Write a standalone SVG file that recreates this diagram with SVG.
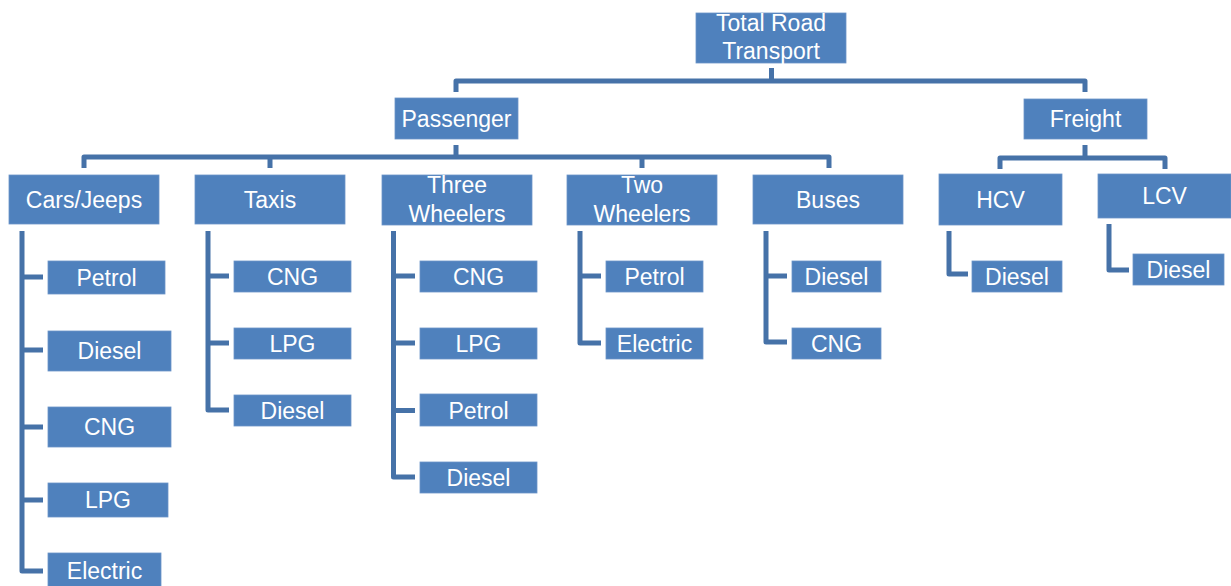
<svg xmlns="http://www.w3.org/2000/svg" width="1231" height="586" viewBox="0 0 1231 586">
<style>
.b{fill:#4f81bd;stroke:#6b95c9;stroke-width:0.8}
.t{font-family:"Liberation Sans",Arial,sans-serif;font-size:23px;fill:#ffffff;text-anchor:middle}
.c{fill:none;stroke:#4672a8;stroke-width:5;stroke-linejoin:round}
</style>
<rect width="1231" height="586" fill="#ffffff"/>
<g id="connectors">
<path class="c" d="M771.5,68 V81 M456,92 V81 H1085 V92"/>
<path class="c" d="M456,145 V157 M84,168 V157 H829 V168 M270,157 V168 M642,157 V168"/>
<path class="c" d="M1085,145 V158 M1000,169 V158 H1165 V169"/>
<path class="c" d="M22,231 V571 H43 M22,277 H43 M22,350 H43 M22,427 H43 M22,500 H43"/>
<path class="c" d="M208,231 V410 H229 M208,276 H229 M208,343 H229"/>
<path class="c" d="M393.5,231 V477 H415 M393.5,276 H415 M393.5,343 H415 M393.5,410.5 H415"/>
<path class="c" d="M580,231 V343 H601 M580,276 H601"/>
<path class="c" d="M766,231 V342 H787 M766,276 H787"/>
<path class="c" d="M949,231 V274 H968"/>
<path class="c" d="M1109,224 V270 H1129"/>
</g>
<g id="total"><rect class="b" x="696" y="13" width="150" height="50"/><text class="t" x="771" y="31">Total Road</text><text class="t" x="771" y="59">Transport</text></g>
<g id="passenger"><rect class="b" x="395" y="98" width="123" height="41"/><text class="t" x="456.5" y="126.5">Passenger</text></g>
<g id="freight"><rect class="b" x="1024" y="99" width="123" height="40"/><text class="t" x="1085.5" y="127">Freight</text></g>
<g id="cars"><rect class="b" x="9" y="175" width="150" height="49"/><text class="t" x="84" y="207.5">Cars/Jeeps</text></g>
<g id="taxis"><rect class="b" x="195" y="175" width="150" height="49"/><text class="t" x="270" y="207.5">Taxis</text></g>
<g id="three"><rect class="b" x="382" y="175" width="150" height="50"/><text class="t" x="457" y="193">Three</text><text class="t" x="457" y="221.5">Wheelers</text></g>
<g id="two"><rect class="b" x="567" y="175" width="150" height="50"/><text class="t" x="642" y="193">Two</text><text class="t" x="642" y="221.5">Wheelers</text></g>
<g id="buses"><rect class="b" x="753" y="175" width="150" height="49"/><text class="t" x="828" y="207.5">Buses</text></g>
<g id="hcv"><rect class="b" x="939" y="174" width="123" height="51"/><text class="t" x="1000.5" y="207.5">HCV</text></g>
<g id="lcv"><rect class="b" x="1098" y="174" width="133" height="44"/><text class="t" x="1164.5" y="204">LCV</text></g>
<g id="cars-petrol"><rect class="b" x="48" y="261" width="117" height="33"/><text class="t" x="106.5" y="285.5">Petrol</text></g>
<g id="cars-diesel"><rect class="b" x="48" y="331" width="123" height="40"/><text class="t" x="109.5" y="359">Diesel</text></g>
<g id="cars-cng"><rect class="b" x="48" y="407" width="123" height="40"/><text class="t" x="109.5" y="435">CNG</text></g>
<g id="cars-lpg"><rect class="b" x="48" y="483" width="120" height="34"/><text class="t" x="108" y="508">LPG</text></g>
<g id="cars-electric"><rect class="b" x="48" y="553" width="113" height="40"/><text class="t" x="104.5" y="579">Electric</text></g>
<g id="taxi-cng"><rect class="b" x="234" y="261" width="117" height="31"/><text class="t" x="292.5" y="284.5">CNG</text></g>
<g id="taxi-lpg"><rect class="b" x="234" y="328" width="117" height="31"/><text class="t" x="292.5" y="351.5">LPG</text></g>
<g id="taxi-diesel"><rect class="b" x="234" y="395" width="117" height="31"/><text class="t" x="292.5" y="418.5">Diesel</text></g>
<g id="three-cng"><rect class="b" x="420" y="261" width="117" height="31"/><text class="t" x="478.5" y="284.5">CNG</text></g>
<g id="three-lpg"><rect class="b" x="420" y="328" width="117" height="31"/><text class="t" x="478.5" y="351.5">LPG</text></g>
<g id="three-petrol"><rect class="b" x="420" y="394" width="117" height="32"/><text class="t" x="478.5" y="418.5">Petrol</text></g>
<g id="three-diesel"><rect class="b" x="420" y="462" width="117" height="31"/><text class="t" x="478.5" y="485.5">Diesel</text></g>
<g id="two-petrol"><rect class="b" x="606" y="261" width="97" height="31"/><text class="t" x="654.5" y="284.5">Petrol</text></g>
<g id="two-electric"><rect class="b" x="606" y="328" width="97" height="31"/><text class="t" x="654.5" y="351.5">Electric</text></g>
<g id="bus-diesel"><rect class="b" x="792" y="261" width="89" height="31"/><text class="t" x="836.5" y="284.5">Diesel</text></g>
<g id="bus-cng"><rect class="b" x="792" y="328" width="89" height="31"/><text class="t" x="836.5" y="351.5">CNG</text></g>
<g id="hcv-diesel"><rect class="b" x="972" y="261" width="90" height="31"/><text class="t" x="1017" y="284.5">Diesel</text></g>
<g id="lcv-diesel"><rect class="b" x="1133" y="254" width="91" height="31"/><text class="t" x="1178.5" y="277.5">Diesel</text></g>
</svg>
